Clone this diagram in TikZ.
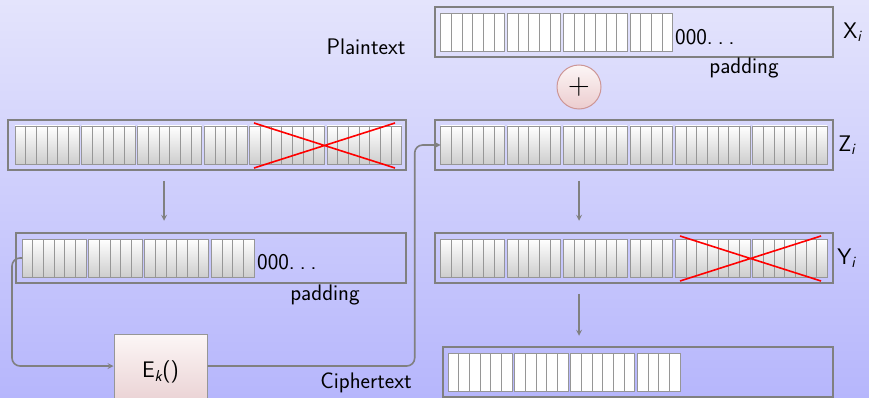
\documentclass[tikz,border=0pt]{standalone}
\usetikzlibrary{shapes,arrows,positioning,calc}

\definecolor{bgtop}{RGB}{228,228,252}
\definecolor{bgbot}{RGB}{182,182,252}
\definecolor{frame}{RGB}{128,128,128}
\definecolor{bitline}{RGB}{150,150,150}
\definecolor{bitbot}{RGB}{205,205,205}
\definecolor{ektop}{RGB}{252,246,246}
\definecolor{ekbot}{RGB}{232,206,208}
\definecolor{xorbot}{RGB}{236,204,206}
\definecolor{xorline}{RGB}{205,150,150}

% one row of bits: x, y of the first bit, number of groups, bit style
\newcommand{\bitrow}[4]{%
  \foreach \s/\n [count=\g from 0] in {0/6,6/5,11/6,17/4,21/7,28/7}{%
    \ifnum\g<#3\relax
      \foreach \j in {1,...,\n}
        \draw[#4] ({#1+(\s+\j-1)*10.667+\g*2.667},{#2}) rectangle ++(10.667,38);
    \fi}}
% register name with italic index
\newcommand{\reg}[2]{#1\textsubscript{\itshape #2}}
\newcommand{\zeros}{000.\kern.22em.\kern.22em.}

\begin{document}
\begin{tikzpicture}[
    x=1pt, y=-1pt,
    font=\sffamily\fontsize{22.5}{27}\selectfont,
    regbox/.style={draw=frame, line width=1.5pt, minimum height=50pt, inner sep=0pt},
    graybit/.style={draw=bitline, line width=0.8pt, top color=white, bottom color=bitbot},
    whitebit/.style={draw=bitline, line width=0.8pt, fill=white},
    cipherbox/.style={draw=bitline, line width=1pt, top color=ektop, bottom color=ekbot,
        minimum width=93pt, minimum height=76pt},
    xorop/.style={circle, draw=xorline, line width=1pt, top color=ektop, bottom color=xorbot,
        minimum size=44pt, inner sep=0pt, font=\fontsize{30}{30}\selectfont},
    edge/.style={-stealth, line width=1.6pt, draw=frame},
    cross/.style={draw=red, line width=1.6pt},
    tag/.style={inner sep=0pt},
]

% background
\shade[top color=bgtop, bottom color=bgbot] (0,0) rectangle (869,398);
\useasboundingbox (0,0) rectangle (869,398);

% registers
\node[regbox, minimum width=398pt] (r1) at (207,145) {};
\node[regbox, minimum width=390pt] (r2) at (211,258) {};
\node[regbox, minimum width=398pt] (xrow) at (634,32) {};
\node[regbox, minimum width=398pt] (zrow) at (634,145) {};
\node[regbox, minimum width=398pt] (yrow) at (634,258) {};
\node[regbox, minimum width=390pt] (crow) at (638,372) {};

\bitrow{15}{126}{6}{graybit}
\bitrow{22}{239}{4}{graybit}
\bitrow{440.7}{13}{4}{whitebit}
\bitrow{440.7}{126}{6}{graybit}
\bitrow{440.7}{239}{6}{graybit}
\bitrow{448}{353}{4}{whitebit}

% dropped bits
\draw[cross] (254,123) -- (395,168) (254,168) -- (395,123);
\draw[cross] (680,236) -- (821,281) (680,281) -- (821,236);

% cipher and xor
\node[cipherbox] (ek) at (160.5,372) {\reg{E}{k}()};
\node[xorop] (plus) at (579,87) {\raisebox{1pt}{+}};

% labels
\node at (366,47) {Plaintext};
\node[tag, anchor=west] at (675,37) {\zeros};
\node at (744,68) {padding};
\node[tag, anchor=west] at (257,262) {\zeros};
\node at (325,295) {padding};
\node at (366,383) {Ciphertext};
\node[right=6pt of xrow] {\reg{X}{i}};
\node[right=1pt of zrow] {\reg{Z}{i}};
\node[right=0pt of yrow] {\reg{Y}{i}};

% flow
\coordinate (r2bits) at (22,258);
\coordinate (zbits) at (440.7,145);
\coordinate (ekin) at ([yshift=6pt]ek.west);
\coordinate (ekout) at ([yshift=6pt]ek.east);

\draw[edge] ($(r1.south)+(-43,10)$) -- ++(0,40);
\draw[edge] ($(plus |- zrow.south)+(0,10)$) -- ++(0,40);
\draw[edge] ($(plus |- yrow.south)+(0,10)$) -- ++(0,42);
\draw[edge, rounded corners=8pt] (r2bits) -- ++(-10,0) |- (ekin);
\draw[edge, rounded corners=8pt] (ekout) -| ($(zbits)+(-26,0)$) -- (zbits);

\end{tikzpicture}
\end{document}
